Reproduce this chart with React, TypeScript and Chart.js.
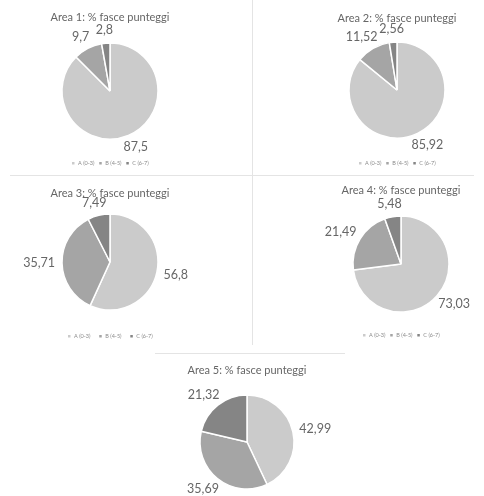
import React, { useEffect, useRef } from "react";
import { Chart, registerables } from "chart.js";

Chart.register(...registerables);

// ---- data ----
const categories = ["A (0-3)", "B (4-5)", "C (6-7)"];
const titles = [
  "Area 1: % fasce punteggi",
  "Area 2: % fasce punteggi",
  "Area 3: % fasce punteggi",
  "Area 4: % fasce punteggi",
  "Area 5: % fasce punteggi",
];
const area1 = [87.5, 9.7, 2.8];
const area2 = [85.92, 11.52, 2.56];
const area3 = [56.8, 35.71, 7.49];
const area4 = [73.03, 21.49, 5.48];
const area5 = [42.99, 35.69, 21.32];
const seriesList = [area1, area2, area3, area4, area5];
const sliceColors = ["#cbcbcb", "#a5a5a5", "#858585"];

// ---- layout (page pixels) ----
const panels = [
  { titleY: 17, cx: 110, cy: 91, r: 48, legendY: 163 },
  { titleY: 18, cx: 397, cy: 90, r: 48, legendY: 163 },
  { titleY: 193, cx: 110, cy: 262, r: 48, legendY: 336 },
  { titleY: 190, cx: 401, cy: 264, r: 48, legendY: 335 },
  { titleY: 370, cx: 247, cy: 442, r: 47, legendY: null as number | null },
];

const FONT = "Lato, 'Open Sans', sans-serif";
const TEXT = "#666666";
const LEGEND_TEXT = "#8a8a8a";
const TS = 11;
const LS = 5.5;

function geometry(p: any) {
  const W = 210;
  const left = Math.round(p.cx - W / 2);
  const top = Math.round(p.titleY - TS / 2 - 3);
  const t = p.titleY - TS / 2 - top;
  let bottom: number;
  let P = 4;
  let b: number;
  if (p.legendY != null) {
    bottom = Math.round(p.legendY + LS / 2 + 10);
    for (;;) {
      const legendTop = bottom - (LS + P + 10);
      const titleBottom = 2 * p.cy - legendTop;
      b = titleBottom - (p.titleY + TS / 2);
      if (b >= 0) break;
      P += 1;
    }
  } else {
    b = 4;
    const titleBottom = p.titleY + TS / 2 + b;
    bottom = Math.round(2 * p.cy - titleBottom);
    b = 2 * p.cy - bottom - (p.titleY + TS / 2);
  }
  return { left, top, width: W, height: bottom - top, t, b, P };
}

const sliceLabels = {
  id: "sliceLabels",
  afterDatasetsDraw(chart: any) {
    const ctx = chart.ctx;
    const meta = chart.getDatasetMeta(0);
    const data = chart.data.datasets[0].data as number[];
    ctx.save();
    ctx.font = `12.5px ${FONT}`;
    ctx.fillStyle = TEXT;
    ctx.textAlign = "center";
    ctx.textBaseline = "middle";
    meta.data.forEach((arc: any, i: number) => {
      const { x, y, startAngle, endAngle, outerRadius } = arc.getProps(
        ["x", "y", "startAngle", "endAngle", "outerRadius"],
        true
      );
      const mid = (startAngle + endAngle) / 2;
      const c = Math.cos(mid);
      const s = Math.sin(mid);
      const text = String(data[i]).replace(".", ",");
      const w = ctx.measureText(text).width;
      const gap = 7;
      const px = x + c * (outerRadius + gap) + (c * w) / 2;
      const py = y + s * (outerRadius + gap) + (s * 12) / 2;
      ctx.fillText(text, px, py);
    });
    ctx.restore();
  },
};

function PiePanel({ idx }: { idx: number }) {
  const ref = useRef<HTMLCanvasElement | null>(null);
  const p = panels[idx];
  const g = geometry(p);
  useEffect(() => {
    if (!ref.current) return;
    const chart = new Chart(ref.current, {
      type: "pie",
      data: {
        labels: categories,
        datasets: [
          {
            data: seriesList[idx],
            backgroundColor: sliceColors,
            borderColor: "#ffffff",
            borderWidth: 1.5,
            radius: p.r,
          } as any,
        ],
      },
      options: {
        responsive: false,
        animation: false,
        devicePixelRatio: 1,
        layout: { padding: 0 },
        plugins: {
          title: {
            display: true,
            text: titles[idx],
            color: TEXT,
            font: { family: FONT, size: TS, weight: "normal", lineHeight: 1 },
            padding: { top: g.t, bottom: g.b },
          },
          legend: {
            display: p.legendY != null,
            position: "bottom",
            labels: {
              color: LEGEND_TEXT,
              font: { family: FONT, size: LS },
              boxWidth: 4,
              boxHeight: 4,
              padding: g.P,
            },
          },
          tooltip: { enabled: false },
        },
      } as any,
      plugins: [sliceLabels],
    });
    return () => chart.destroy();
  }, []);
  return (
    <canvas
      ref={ref}
      width={g.width}
      height={g.height}
      style={{
        position: "absolute",
        left: g.left,
        top: g.top,
        width: g.width,
        height: g.height,
      }}
    />
  );
}

export default function App() {
  const line = "#e4e4e4";
  return (
    <div
      style={{
        position: "fixed",
        left: 0,
        top: 0,
        width: 484,
        height: 496,
        overflow: "hidden",
        background: "#ffffff",
      }}
    >
      <div style={{ position: "absolute", left: 252, top: 0, width: 1, height: 345, background: line }} />
      <div style={{ position: "absolute", left: 10, top: 175, width: 464, height: 1, background: line }} />
      <div style={{ position: "absolute", left: 155, top: 353, width: 190, height: 1, background: line }} />
      {panels.map((_, i) => (
        <PiePanel key={i} idx={i} />
      ))}
    </div>
  );
}
